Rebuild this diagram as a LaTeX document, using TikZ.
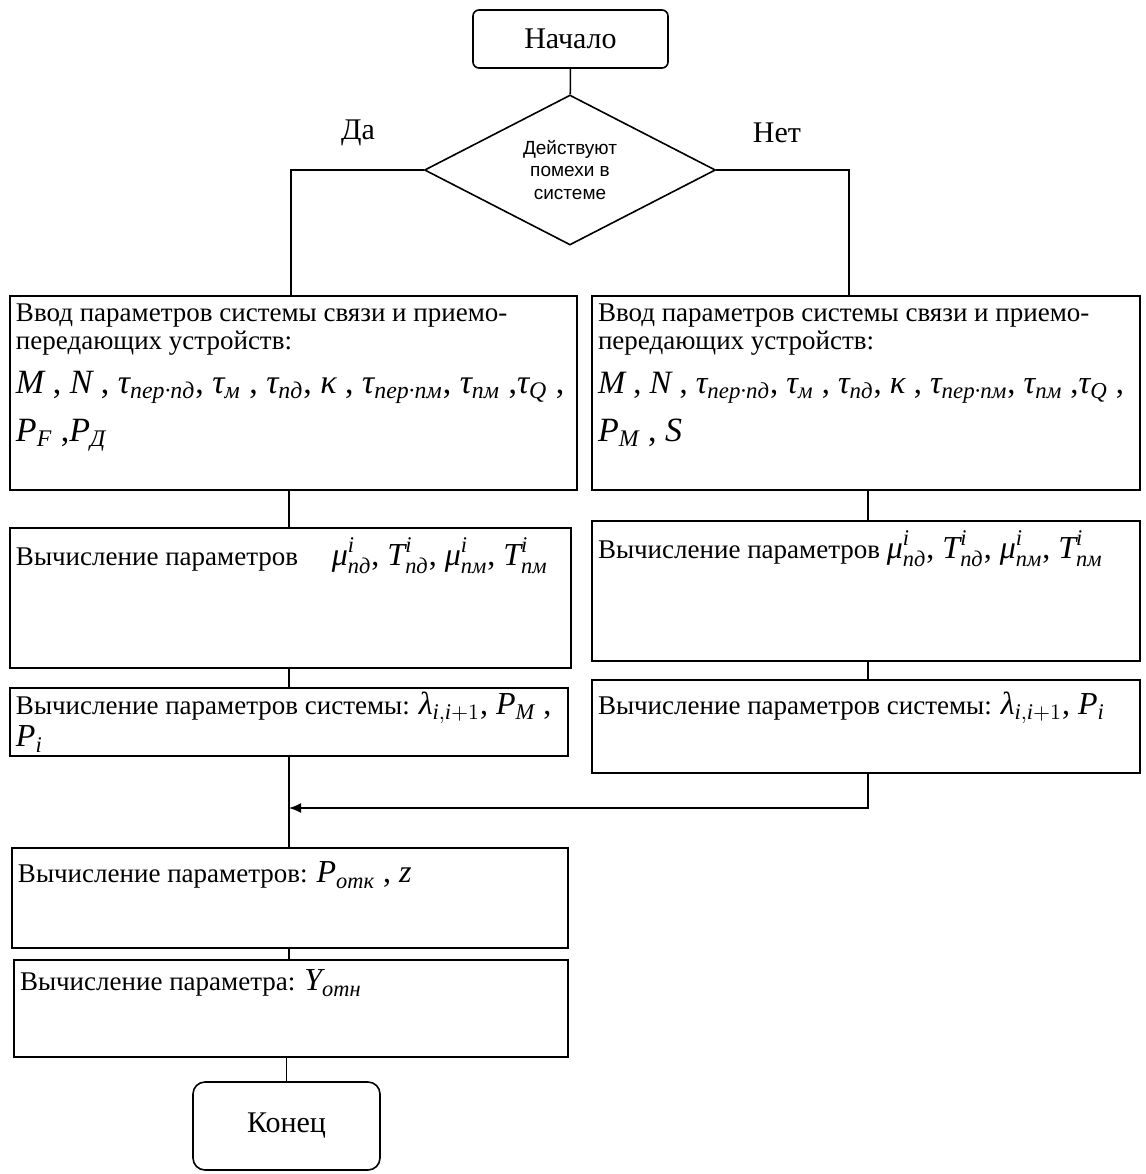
\documentclass[tikz,border=0pt]{standalone}
\usepackage{amsmath}
\usepackage{fontspec}
\setmainfont{Liberation Serif}
\newfontfamily\diafont{Liberation Sans}
\usetikzlibrary{shapes.geometric,arrows.meta}

% italic symbols set in the text face (Greek and Cyrillic indices)
\newcommand\mi[1]{\text{\itshape #1}}
\newcommand\bodyfont{\fontsize{13.5}{14}\selectfont}
\newcommand\symfont{\fontsize{16}{21}\selectfont}
% top-aligned text block of a given width and height
\newcommand\blk[3]{\parbox[c][#2][t]{#1}{\raggedright #3}}

\tikzset{
  line/.style={draw, line width=0.8pt},
  proc/.style={draw, line width=0.8pt, rectangle, inner xsep=3pt, inner ysep=2pt, font=\bodyfont},
  term/.style={draw, line width=0.8pt, rectangle, font=\fontsize{15}{17}\selectfont},
  decide/.style={draw, line width=0.8pt, diamond, aspect=2, inner sep=0pt,
    minimum width=145.5pt, minimum height=75pt, align=center,
    font=\diafont\fontsize{9.5}{11.3}\selectfont},
  branch/.style={font=\fontsize{15}{17}\selectfont}
}

\begin{document}
\begin{tikzpicture}[x=0.5pt,y=-0.5pt]
\path[fill=white] (0,0) rectangle (1146,1174);
\useasboundingbox (0,0) rectangle (1146,1174);

% terminals and decision
\node[term, rounded corners=3pt, minimum width=97.5pt, minimum height=29pt] (start) at (570.5,39) {Начало};
\node[decide] (dec) at (570,170) {Действуют\\помехи в\\системе};
\node[branch] (yes) at (358,133) {Да};
\node[branch] (no) at (777,133) {Нет};

% input blocks
\node[proc] (L1) at (293.5,393) {\blk{277.5pt}{93pt}{%
  \vspace*{2pt}Ввод параметров системы связи и приемо-\par
  передающих устройств:\par
  {\fontsize{17}{22}\selectfont\mbox{$\mi{M}$ , $\mi{N}$ , $\mi{τ}_{\mi{пер·пд}}$, $\mi{τ}_{\mi{м}}$ , $\mi{τ}_{\mi{пд}}$, $\mi{κ}$ , $\mi{τ}_{\mi{пер·пм}}$, $\mi{τ}_{\mi{пм}}$ ,$\mi{τ}_{\mi{Q}}$ ,}\par}
  {\fontsize{17}{24}\selectfont $\mi{P}_{\mi{F}}$ ,$\mi{P}_{\mi{Д}}$\par}}};
\node[proc] (R1) at (866,393) {\blk{268pt}{93pt}{%
  \vspace*{2pt}Ввод параметров системы связи и приемо-\par
  передающих устройств:\par
  {\fontsize{16.3}{22}\selectfont\mbox{$\mi{M}$ , $\mi{N}$ , $\mi{τ}_{\mi{пер·пд}}$, $\mi{τ}_{\mi{м}}$ , $\mi{τ}_{\mi{пд}}$, $\mi{κ}$ , $\mi{τ}_{\mi{пер·пм}}$, $\mi{τ}_{\mi{пм}}$ ,$\mi{τ}_{\mi{Q}}$ ,}\par}
  {\fontsize{17}{24}\selectfont $\mi{P}_{\mi{M}}$ , $\mi{S}$\par}}};

% computation blocks
\node[proc] (L2) at (290.5,598) {\blk{274.5pt}{66pt}{%
  \vspace*{3pt}Вычисление параметров\quad\ {\symfont $\mi{μ}^{\mi{i}}_{\mi{пд}}$, $\mi{T}^{\mi{i}}_{\mi{пд}}$, $\mi{μ}^{\mi{i}}_{\mi{пм}}$, $\mi{T}^{\mi{i}}_{\mi{пм}}$}}};
\node[proc] (R2) at (866,591) {\blk{268pt}{66pt}{%
  \vspace*{3pt}Вычисление параметров {\symfont $\mi{μ}^{\mi{i}}_{\mi{пд}}$, $\mi{T}^{\mi{i}}_{\mi{пд}}$, $\mi{μ}^{\mi{i}}_{\mi{пм}}$, $\mi{T}^{\mi{i}}_{\mi{пм}}$}}};
\node[proc] (L3) at (289,722) {\blk{273pt}{30pt}{%
  Вычисление параметров системы: {\fontsize{16}{14}\selectfont $\mi{λ}_{\mi{i},\mi{i}+1}$, $\mi{P}_{\mi{M}}$ ,\par $\mi{P}_{\mi{i}}$\par}}};
\node[proc] (R3) at (866,726.5) {\blk{268pt}{42.5pt}{%
  \vspace*{4pt}Вычисление параметров системы: {\symfont $\mi{λ}_{\mi{i},\mi{i}+1}$, $\mi{P}_{\mi{i}}$}}};
\node[proc] (L4) at (290,898) {\blk{272pt}{46pt}{%
  \vspace*{5pt}Вычисление параметров: {\symfont $\mi{P}_{\mi{отк}}$ , $\mi{z}$}}};
\node[proc] (L5) at (291,1008.5) {\blk{271pt}{44.5pt}{%
  \vspace*{3pt}Вычисление параметра: {\symfont $\mi{Y}_{\mi{отн}}$}}};

\node[term, rounded corners=6pt, minimum width=93.5pt, minimum height=44pt] (stop) at (286.5,1126) {Конец};

% connector guides
\coordinate (xa) at (291,0);
\coordinate (xb) at (849,0);
\coordinate (xl) at (289,0);
\coordinate (xr) at (868,0);
\coordinate (merge) at (289,808);

% connectors
\draw[line] (start) -- (dec);
\draw[line] (dec.west) -| (xa |- L1.north);
\draw[line] (dec.east) -| (xb |- R1.north);
\draw[line] (L1.south -| xl) -- (L2.north -| xl);
\draw[line] (L2.south -| xl) -- (L3.north -| xl);
\draw[line] (L3.south -| xl) -- (L4.north -| xl);
\draw[line] (R1.south -| xr) -- (R2.north -| xr);
\draw[line] (R2.south -| xr) -- (R3.north -| xr);
\draw[line, -{Latex[length=6pt,width=5pt]}] (R3.south -| xr) |- (merge);
\draw[line] (L4.south -| xl) -- (L5.north -| xl);
\draw[line] (L5.south -| stop) -- (stop.north);
\end{tikzpicture}
\end{document}
